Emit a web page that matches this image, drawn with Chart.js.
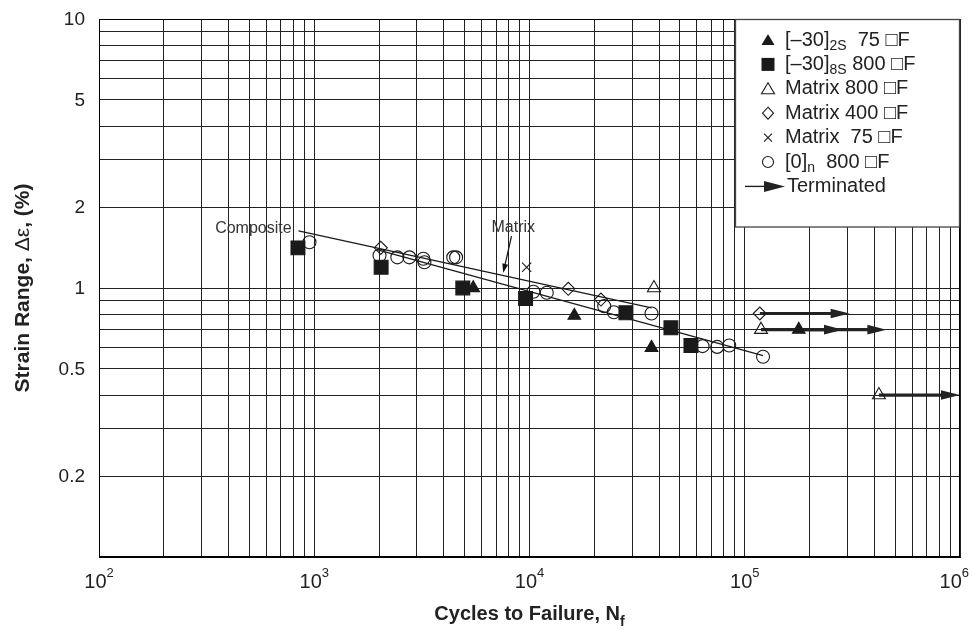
<!DOCTYPE html>
<html>
<head>
<meta charset="utf-8">
<script src="https://cdn.jsdelivr.net/npm/chart.js@4.4.0/dist/chart.umd.min.js"></script>
<style>
  html, body { margin: 0; padding: 0; background: #fff; }
  #wrap { width: 972px; height: 638px; }
</style>
</head>
<body>
<div id="wrap"><canvas id="fatigueChart" width="972" height="638"></canvas></div>
<script>
// =========================
// DATA
// =========================
const xGridValues = [100, 200, 300, 400, 500, 600, 700, 800, 900,
  1000, 2000, 3000, 4000, 5000, 6000, 7000, 8000, 9000,
  10000, 20000, 30000, 40000, 50000, 60000, 70000, 80000, 90000,
  100000, 200000, 300000, 400000, 500000, 600000, 700000, 800000, 900000, 1000000];
const xTickValues = [100, 1000, 10000, 100000, 1000000];
const xTickExponents = ["2", "3", "4", "5", "6"];

const yGridValues = [0.1, 0.2, 0.3, 0.4, 0.5, 0.6, 0.7, 0.8, 0.9,
  1, 2, 3, 4, 5, 6, 7, 8, 9, 10];
const yTickLabels = [10, 5, 2, 1, 0.5, 0.2];

// [-30]2S 75 F  (filled triangles)
const tri75X = [5480, 16150, 36880, 178200];
const tri75Y = [1.0, 0.79, 0.60, 0.70];

// [-30]8S 800 F  (filled squares)
const sq800X = [840, 2045, 4900, 9590, 28050, 45400, 56240];
const sq800Y = [1.41, 1.195, 1.0, 0.914, 0.809, 0.711, 0.611];

// Matrix 800 F  (open triangles)
const matrix800X = [37840, 119000, 420000];
const matrix800Y = [1.0, 0.70, 0.40];

// Matrix 400 F  (open diamonds)
const matrix400X = [2037, 15140, 21470, 117500];
const matrix400Y = [1.41, 0.993, 0.906, 0.804];

// Matrix 75 F  (crosses)
const matrix75X = [9700];
const matrix75Y = [1.195];

// [0]n 800 F  (open circles)
const zero800X = [950, 2010, 2432, 2766, 3213, 3250, 4424, 4560, 10420, 12030,
  22240, 24660, 36880, 63680, 74470, 84700, 121600];
const zero800Y = [1.48, 1.32, 1.30, 1.30, 1.284, 1.247, 1.30, 1.30, 0.968, 0.96,
  0.856, 0.813, 0.804, 0.608, 0.604, 0.611, 0.555];

// fit lines
const upperLineX = [845, 36880];
const upperLineY = [1.63, 0.844];
const lowerLineX = [1954, 121600];
const lowerLineY = [1.39, 0.561];

// terminated (run-out) arrows
const arrowFromX = [117500, 119000, 178200, 420000];
const arrowToX = [307000, 286000, 455000, 1000000];
const arrowY = [0.804, 0.70, 0.70, 0.40];

// annotation anchors (data coords)
const compositeLabelAt = [785, 1.66];
const matrixLabelAt = [8410, 1.678];
const matrixPointerFrom = [8250, 1.56];
const matrixPointerTo = [7550, 1.139];

const FONT = "'Liberation Sans', Arial, Helvetica, sans-serif";
const INK = "#1a1a1a";

const toPts = (xs, ys) => xs.map((x, i) => ({ x, y: ys[i] }));

// =========================
// DRAW HELPERS
// =========================
function drawArrow(ctx, x0, y0, x1, y1, width, headLen, headHalf) {
  const ang = Math.atan2(y1 - y0, x1 - x0);
  const bx = x1 - headLen * Math.cos(ang);
  const by = y1 - headLen * Math.sin(ang);
  ctx.beginPath();
  ctx.moveTo(x0, y0);
  ctx.lineTo(bx + Math.cos(ang), by + Math.sin(ang));
  ctx.lineWidth = width;
  ctx.stroke();
  ctx.beginPath();
  ctx.moveTo(x1, y1);
  ctx.lineTo(bx + headHalf * Math.sin(ang), by - headHalf * Math.cos(ang));
  ctx.lineTo(bx - headHalf * Math.sin(ang), by + headHalf * Math.cos(ang));
  ctx.closePath();
  ctx.fill();
}

function drawMarker(ctx, kind, x, y) {
  ctx.save();
  ctx.strokeStyle = INK;
  ctx.fillStyle = INK;
  ctx.lineWidth = 1.1;
  ctx.beginPath();
  if (kind === "triFilled" || kind === "triOpen") {
    ctx.moveTo(x, y - 6);
    ctx.lineTo(x + 6.5, y + 5);
    ctx.lineTo(x - 6.5, y + 5);
    ctx.closePath();
    kind === "triFilled" ? ctx.fill() : ctx.stroke();
  } else if (kind === "square") {
    ctx.rect(x - 6.5, y - 6.5, 13, 13);
    ctx.fill();
  } else if (kind === "diamond") {
    ctx.moveTo(x, y - 6);
    ctx.lineTo(x + 5.5, y);
    ctx.lineTo(x, y + 6);
    ctx.lineTo(x - 5.5, y);
    ctx.closePath();
    ctx.stroke();
  } else if (kind === "cross") {
    ctx.moveTo(x - 4, y - 4); ctx.lineTo(x + 4, y + 4);
    ctx.moveTo(x + 4, y - 4); ctx.lineTo(x - 4, y + 4);
    ctx.stroke();
  } else if (kind === "circle") {
    ctx.arc(x, y, 5.5, 0, Math.PI * 2);
    ctx.stroke();
  }
  ctx.restore();
}

// text runs: [text, font, dy]
function drawRuns(ctx, runs, x, y, align) {
  let total = 0;
  runs.forEach(r => { ctx.font = r[1]; total += ctx.measureText(r[0]).width; });
  let cx = align === "center" ? x - total / 2 : x;
  runs.forEach(r => {
    ctx.font = r[1];
    ctx.fillText(r[0], cx, y + (r[2] || 0));
    cx += ctx.measureText(r[0]).width;
  });
}

const legendItems = [
  { kind: "triFilled", runs: [["[\u201330]", `20px ${FONT}`], ["2S", `14px ${FONT}`, 6], ["  75 \u25A1F", `20px ${FONT}`]] },
  { kind: "square", runs: [["[\u201330]", `20px ${FONT}`], ["8S", `14px ${FONT}`, 6], [" 800 \u25A1F", `20px ${FONT}`]] },
  { kind: "triOpen", runs: [["Matrix 800 \u25A1F", `20px ${FONT}`]] },
  { kind: "diamond", runs: [["Matrix 400 \u25A1F", `20px ${FONT}`]] },
  { kind: "cross", runs: [["Matrix  75 \u25A1F", `20px ${FONT}`]] },
  { kind: "circle", runs: [["[0]", `20px ${FONT}`], ["n", `14px ${FONT}`, 6], ["  800 \u25A1F", `20px ${FONT}`]] },
  { kind: "arrow", runs: [["Terminated", `20px ${FONT}`]] },
];

// =========================
// PLUGIN : arrows, frame, labels, legend
// =========================
const decorPlugin = {
  id: "decor",
  beforeDatasetsDraw(chart) {
    const { ctx, scales: { x, y } } = chart;
    ctx.save();
    ctx.strokeStyle = "#222";
    ctx.fillStyle = "#222";
    ctx.lineCap = "butt";
    arrowFromX.forEach((x0, i) => {
      const py = y.getPixelForValue(arrowY[i]);
      drawArrow(ctx, x.getPixelForValue(x0), py, x.getPixelForValue(arrowToX[i]), py, 3.2, 19, 4.8);
    });
    ctx.restore();
  },
  afterDraw(chart) {
    const { ctx, chartArea: a, scales: { x, y } } = chart;
    ctx.save();

    // frame
    ctx.strokeStyle = "#000";
    ctx.lineWidth = 1;
    const L = Math.round(a.left) + 0.5, R = Math.round(a.right) - 0.5;
    const T = Math.round(a.top) + 0.5, B = Math.round(a.bottom) - 0.5;
    ctx.strokeRect(L, T, R - L, B - T);

    // annotations
    ctx.fillStyle = "#333";
    ctx.font = `16px ${FONT}`;
    ctx.textBaseline = "middle";
    ctx.textAlign = "right";
    ctx.fillText("Composite", x.getPixelForValue(compositeLabelAt[0]), y.getPixelForValue(compositeLabelAt[1]));
    ctx.textAlign = "center";
    ctx.fillText("Matrix", x.getPixelForValue(matrixLabelAt[0]), y.getPixelForValue(matrixLabelAt[1]));
    ctx.strokeStyle = "#111";
    ctx.fillStyle = "#111";
    drawArrow(ctx,
      x.getPixelForValue(matrixPointerFrom[0]), y.getPixelForValue(matrixPointerFrom[1]),
      x.getPixelForValue(matrixPointerTo[0]), y.getPixelForValue(matrixPointerTo[1]),
      1.2, 9, 3);

    // y tick labels
    ctx.fillStyle = "#222";
    ctx.font = `19px ${FONT}`;
    ctx.textAlign = "right";
    ctx.textBaseline = "middle";
    yTickLabels.forEach(v => ctx.fillText(String(v), 85, y.getPixelForValue(v) + 1));

    // x tick labels with superscripts
    ctx.textAlign = "left";
    ctx.textBaseline = "alphabetic";
    xTickValues.forEach((v, i) => {
      const px = x.getPixelForValue(v);
      ctx.font = `20px ${FONT}`;
      const w1 = ctx.measureText("10").width;
      ctx.font = `13px ${FONT}`;
      const w2 = ctx.measureText(xTickExponents[i]).width;
      let sx = px - (w1 + w2) / 2;
      if (sx + w1 + w2 > 969) sx = 969 - w1 - w2;
      ctx.font = `20px ${FONT}`;
      ctx.fillText("10", sx, 588);
      ctx.font = `13px ${FONT}`;
      ctx.fillText(xTickExponents[i], sx + w1, 577);
    });

    // axis titles
    drawRuns(ctx, [
      ["Cycles to Failure, N", `bold 20px ${FONT}`],
      ["f", `bold 14px ${FONT}`, 6],
    ], (a.left + a.right) / 2, 620, "center");

    ctx.save();
    ctx.translate(23, (a.top + a.bottom) / 2);
    ctx.rotate(-Math.PI / 2);
    ctx.textBaseline = "middle";
    drawRuns(ctx, [
      ["Strain Range, ", `bold 21px ${FONT}`],
      ["\u0394\u03B5", `21px ${FONT}`],
      [", (%)", `bold 21px ${FONT}`],
    ], 0, 0, "center");
    ctx.restore();

    // legend box
    const bx = 735.5, by = T, bw = R - 735.5, bh = 227 - T;
    ctx.fillStyle = "#fff";
    ctx.fillRect(bx, by, bw, bh);
    ctx.strokeStyle = "#444";
    ctx.lineWidth = 1.3;
    ctx.strokeRect(bx, by, bw, bh);

    ctx.textBaseline = "middle";
    ctx.textAlign = "left";
    legendItems.forEach((it, i) => {
      const cy = 40 + i * 24.4;
      if (it.kind === "arrow") {
        ctx.strokeStyle = "#222";
        ctx.fillStyle = "#222";
        drawArrow(ctx, 745, cy, 785, cy, 1.4, 21, 5.5);
      } else {
        drawMarker(ctx, it.kind, 768, cy);
      }
      ctx.fillStyle = "#222";
      drawRuns(ctx, it.runs, it.kind === "arrow" ? 787 : 785, cy, "left");
    });

    ctx.restore();
  },
};

// =========================
// CHART
// =========================
const markerBase = { showLine: false, borderColor: INK, pointBorderWidth: 1.1, pointHoverRadius: 0 };

new Chart(document.getElementById("fatigueChart"), {
  type: "scatter",
  data: {
    datasets: [
      { ...markerBase, label: "[-30]2S 75F", data: toPts(tri75X, tri75Y), pointStyle: "triangle", pointRadius: 7.3, backgroundColor: INK },
      { ...markerBase, label: "[-30]8S 800F", data: toPts(sq800X, sq800Y), pointStyle: "rect", pointRadius: 9.8, backgroundColor: INK },
      { ...markerBase, label: "Matrix 800F", data: toPts(matrix800X, matrix800Y), pointStyle: "triangle", pointRadius: 7.5, backgroundColor: "rgba(0,0,0,0)" },
      { ...markerBase, label: "Matrix 400F", data: toPts(matrix400X, matrix400Y), pointStyle: "rectRot", pointRadius: 6.5, backgroundColor: "rgba(0,0,0,0)" },
      { ...markerBase, label: "Matrix 75F", data: toPts(matrix75X, matrix75Y), pointStyle: "crossRot", pointRadius: 6.5, backgroundColor: "rgba(0,0,0,0)" },
      { ...markerBase, label: "[0]n 800F", data: toPts(zero800X, zero800Y), pointStyle: "circle", pointRadius: 6.5, backgroundColor: "rgba(0,0,0,0)" },
      { label: "Matrix fit", data: toPts(upperLineX, upperLineY), showLine: true, borderColor: INK, borderWidth: 1.3, pointRadius: 0 },
      { label: "Composite fit", data: toPts(lowerLineX, lowerLineY), showLine: true, borderColor: INK, borderWidth: 1.3, pointRadius: 0 },
    ],
  },
  options: {
    responsive: false,
    animation: false,
    devicePixelRatio: 1,
    layout: { padding: { top: 19, right: 12, left: 0, bottom: 0 } },
    plugins: { legend: { display: false }, tooltip: { enabled: false } },
    scales: {
      x: {
        type: "logarithmic",
        min: 100,
        max: 1000000,
        afterBuildTicks: (s) => { s.ticks = xGridValues.map(v => ({ value: v })); },
        afterFit: (s) => { s.height = 81; },
        ticks: { display: false, autoSkip: false },
        grid: { color: "#222", lineWidth: 1, drawTicks: false },
        border: { color: "#000", width: 1 },
      },
      y: {
        type: "logarithmic",
        min: 0.1,
        max: 10,
        afterBuildTicks: (s) => { s.ticks = yGridValues.map(v => ({ value: v })); },
        afterFit: (s) => { s.width = 99; },
        ticks: { display: false, autoSkip: false },
        grid: { color: "#222", lineWidth: 1, drawTicks: false },
        border: { color: "#000", width: 1 },
      },
    },
  },
  plugins: [decorPlugin],
});
</script>
</body>
</html>
